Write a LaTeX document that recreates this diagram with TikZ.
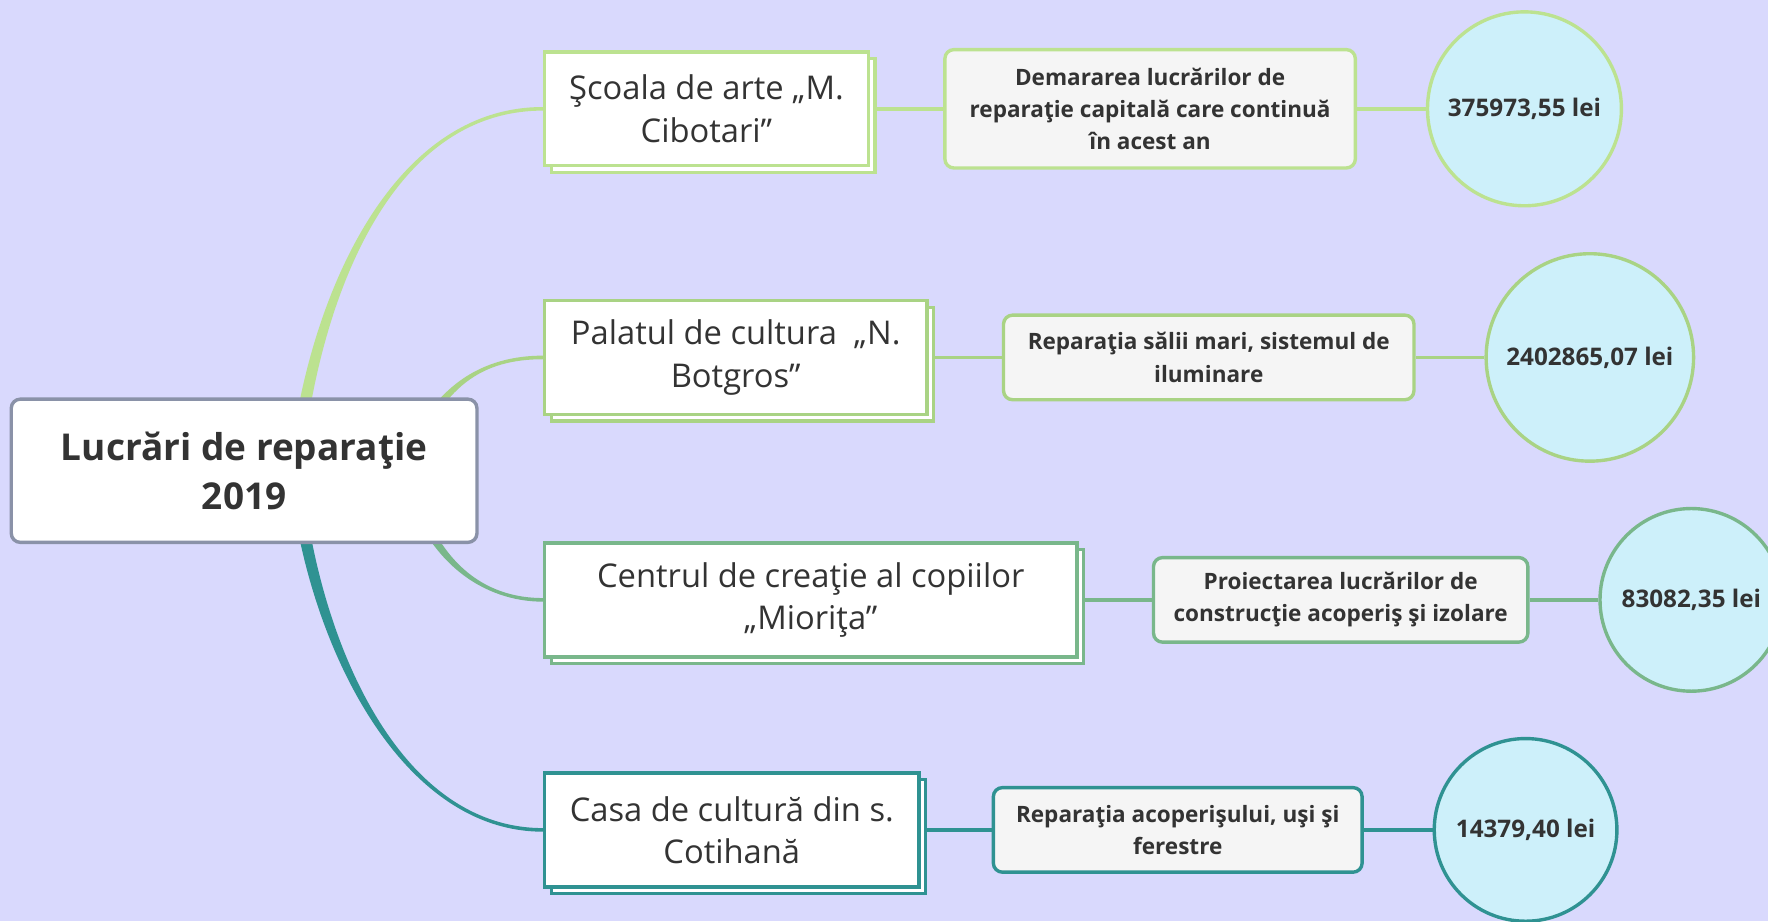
\documentclass[tikz,border=0pt]{standalone}
\usepackage{fontspec}
\setmainfont{Open Sans}
\usetikzlibrary{shadows,backgrounds,calc}
\definecolor{bg}{HTML}{D9D9FD}
\definecolor{txt}{HTML}{333333}
\definecolor{cA}{HTML}{BCE290}
\definecolor{cB}{HTML}{A9D384}
\definecolor{cC}{HTML}{79B78B}
\definecolor{cD}{HTML}{2F9292}
\definecolor{rootb}{HTML}{8A92A8}
\definecolor{boxfill}{HTML}{F5F5F5}
\definecolor{circfill}{HTML}{CDF0FA}
\tikzset{
  rootbox/.style={draw=rootb, line width=3pt, fill=white, rounded corners=8pt, align=center, text=txt,
    font=\fontsize{32.8}{43}\selectfont\bfseries, minimum width=413pt, minimum height=127pt},
  topicbox/.style={draw=#1, line width=3pt, fill=white, align=center, text=txt,
    font=\fontsize{29}{37.5}\selectfont, minimum height=101pt,
    copy shadow={shadow xshift=6pt, shadow yshift=-6pt}},
  detailbox/.style={draw=#1, line width=3pt, fill=boxfill, rounded corners=8pt, align=center, text=txt,
    font=\fontsize{20}{28.5}\selectfont\bfseries},
  valcirc/.style={draw=#1, line width=3pt, fill=circfill, circle, text=txt, inner sep=0pt,
    font=\fontsize{21.5}{26}\selectfont\bfseries},
  link/.style={draw=#1, line width=3pt},
}
% tapered branch: #1 colour, #2 start, #3 first control, #4 second control, #5 target node,
% #6 half width at start, #7 signed half width at end
\newcommand{\taperbranch}[7]{%
  \fill[#1] ($(#2)+(-#6,0)$) .. controls ($(#3)+(-#6,0)$) and ($(#4)+(0,-#7)$) .. ($(#5.west)+(0,-#7)$)
    -- ($(#5.west)+(0,#7)$) .. controls ($(#4)+(0,#7)$) and ($(#3)+(#6,0)$) .. ($(#2)+(#6,0)$) -- cycle;}
\begin{document}
\begin{tikzpicture}[x=1pt,y=-1pt]
\useasboundingbox (0,0) rectangle (1568,817);

\node[rootbox] (root) at (216.5,417.5) {Lucrări de reparaţie\\2019};

\node[topicbox=cA, minimum width=287pt] (t1) at (626.5,96.5) {Şcoala de arte „M.\\Cibotari”};
\node[topicbox=cB, minimum width=339pt] (t2) at (652.5,317) {Palatul de cultura~ „N.\\Botgros”};
\node[topicbox=cC, minimum width=472pt] (t3) at (719,532) {Centrul de creaţie al copiilor\\„Mioriţa”};
\node[topicbox=cD, minimum width=332pt] (t4) at (649,736) {Casa de cultură din s.\\Cotihană};

\node[detailbox=cA, minimum width=364pt, minimum height=105pt] (d1) at (1020,96.5) {Demararea lucrărilor de\\reparaţie capitală care continuă\\în acest an};
\node[detailbox=cB, minimum width=364pt, minimum height=75pt] (d2) at (1072,317) {Reparaţia sălii mari, sistemul de\\iluminare};
\node[detailbox=cC, minimum width=332pt, minimum height=75pt] (d3) at (1189,532) {Proiectarea lucrărilor de\\construcţie acoperiş şi izolare};
\node[detailbox=cD, minimum width=327pt, minimum height=75pt] (d4) at (1044.5,736) {Reparaţia acoperişului, uşi şi\\ferestre};

\node[valcirc=cA, minimum size=172pt] (v1) at (1352,96.5) {375973,55 lei};
\node[valcirc=cB, minimum size=184pt] (v2) at (1410,317) {2402865,07 lei};
\node[valcirc=cC, minimum size=162pt] (v3) at (1500,532) {83082,35 lei};
\node[valcirc=cD, minimum size=162pt] (v4) at (1353,736) {14379,40 lei};

\coordinate (bs1) at ($(root.center)+(45.5,0)$);
\coordinate (bs2) at ($(root.center)+(143.5,0)$);
\coordinate (b1a) at (275,280);
\coordinate (b1b) at (340,96.5);
\coordinate (b2a) at (385,340);
\coordinate (b2b) at (430,317);
\coordinate (b3a) at (380,500);
\coordinate (b3b) at (430,532);
\coordinate (b4a) at (275,560);
\coordinate (b4b) at (350,736);

\begin{scope}[on background layer]
  \fill[bg] (0,0) rectangle (1568,817);
  \taperbranch{cA}{bs1}{b1a}{b1b}{t1}{5.5}{1.6}
  \taperbranch{cB}{bs2}{b2a}{b2b}{t2}{5}{1.6}
  \taperbranch{cC}{bs2}{b3a}{b3b}{t3}{5}{-1.6}
  \taperbranch{cD}{bs1}{b4a}{b4b}{t4}{5.5}{-1.6}
  \draw[link=cA] (t1.east) -- (d1.west);
  \draw[link=cA] (d1.east) -- (v1.west);
  \draw[link=cB] (t2.east) -- (d2.west);
  \draw[link=cB] (d2.east) -- (v2.west);
  \draw[link=cC] (t3.east) -- (d3.west);
  \draw[link=cC] (d3.east) -- (v3.west);
  \draw[link=cD] (t4.east) -- (d4.west);
  \draw[link=cD] (d4.east) -- (v4.west);
\end{scope}
\end{tikzpicture}
\end{document}
